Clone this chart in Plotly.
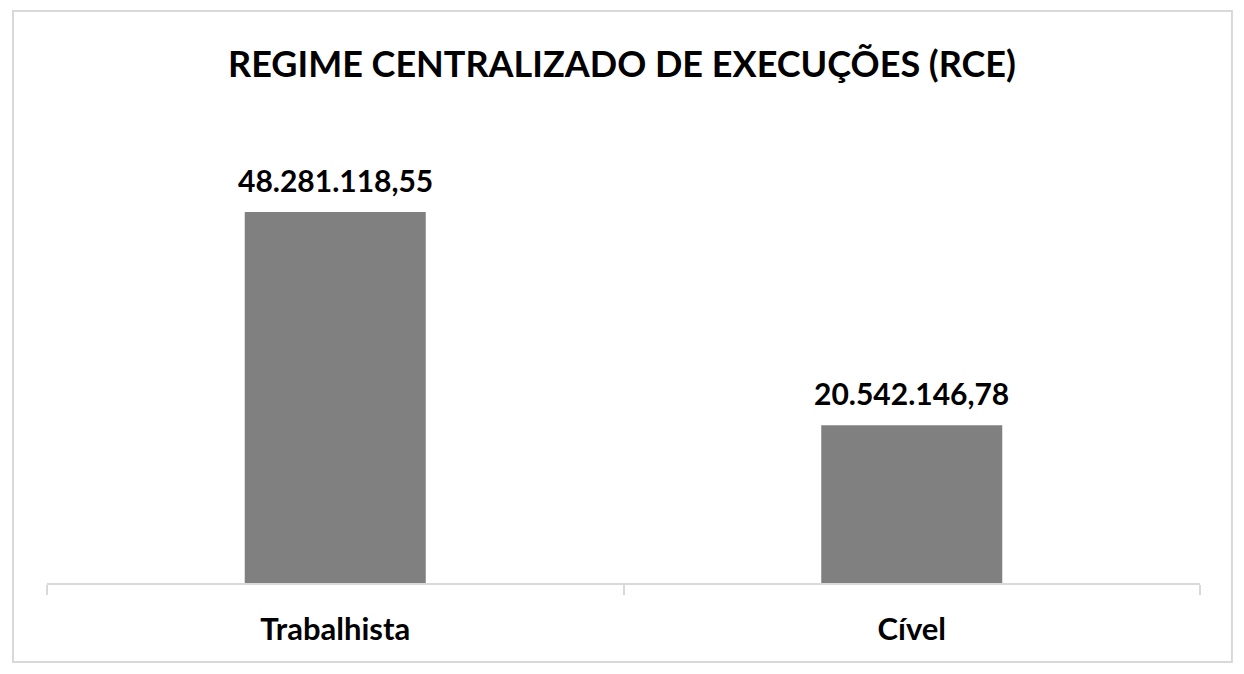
import plotly.graph_objects as go

# Dados do grafico
categorias = ["Trabalhista", "Cível"]
valores = [48281118.55, 20542146.78]
rotulos = ["48.281.118,55", "20.542.146,78"]

FONTE = "Lato"
CINZA_LINHA = "#d9d9d9"

fig = go.Figure()

fig.add_trace(go.Bar(
    x=categorias
    ,y=valores
    ,marker=dict(color="#808080", line=dict(width=0))
    ,width=0.314
    ,hoverinfo="skip"
))

# Rotulos de dados acima das barras
for cat, val, txt in zip(categorias, valores, rotulos):
    fig.add_annotation(
        x=cat, y=val, text=f"<b>{txt}</b>"
        ,showarrow=False, yanchor="bottom", yshift=12
        ,font=dict(family=FONTE, size=30, color="#000000")
    )

# Moldura do grafico
fig.add_shape(
    type="rect", xref="paper", yref="paper"
    ,x0=-0.0295, x1=1.0277, y0=-0.1714, y1=1.2408
    ,line=dict(color=CINZA_LINHA, width=2)
)

fig.update_layout(
    title=dict(
        text="<b>REGIME CENTRALIZADO DE EXECUÇÕES (RCE)</b>"
        ,x=0.5, xanchor="center", y=0.905, yanchor="middle"
        ,font=dict(family=FONTE, size=36, color="#000000")
    )
    ,width=1244
    ,height=674
    ,margin=dict(l=47, r=44, t=122, b=91)
    ,paper_bgcolor="white"
    ,plot_bgcolor="white"
    ,showlegend=False
    ,xaxis=dict(
        showline=True, linecolor=CINZA_LINHA, linewidth=1.5
        ,ticks="outside", tickson="boundaries", ticklen=10, tickcolor=CINZA_LINHA, tickwidth=1.5
        ,tickfont=dict(family=FONTE, size=31, color="#000000")
        ,ticklabelstandoff=18
        ,showgrid=False
    )
    ,yaxis=dict(range=[0, 60000000], visible=False, showgrid=False)
)

# Negrito nas categorias
fig.update_xaxes(ticktext=[f"<b>{c}</b>" for c in categorias], tickvals=categorias)

# Sem margem no body, para a figura ocupar a janela inteira
fig.write_html(
    "out.html"
    ,config={"displayModeBar": False}
    ,post_script="document.body.style.margin='0';"
)
